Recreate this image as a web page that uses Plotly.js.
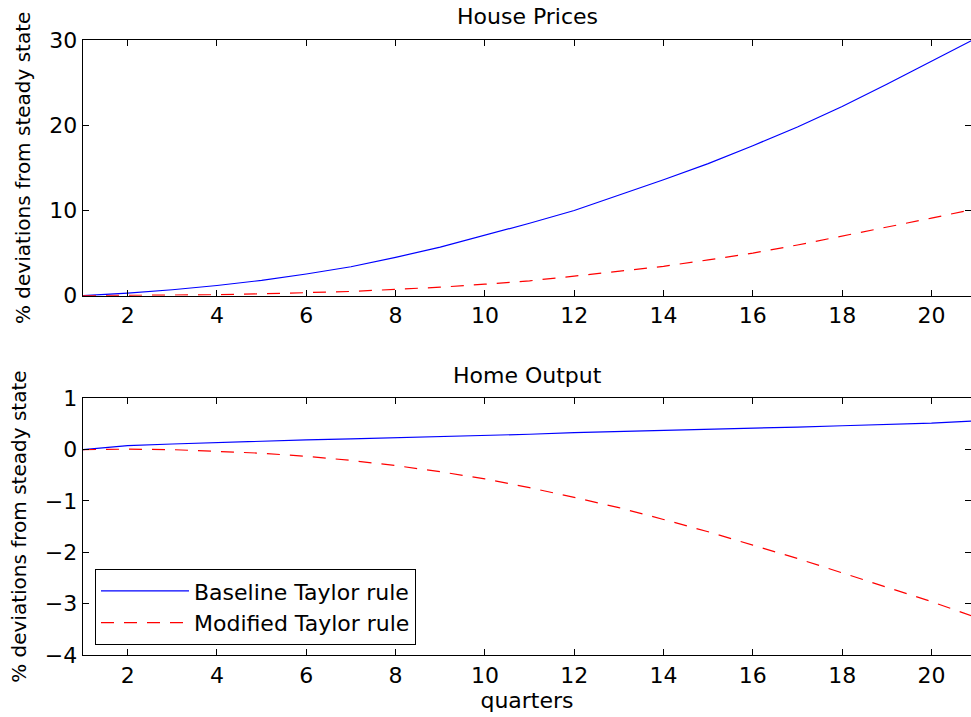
<!DOCTYPE html>
<html>
<head>
<meta charset="utf-8">
<script src="https://cdn.plot.ly/plotly-3.0.1.min.js"></script>
<style>html,body{margin:0;padding:0;background:#fff;}#chart{width:971px;height:717px;}</style>
</head>
<body>
<div id="chart"></div>
<script>
const quarters = [1,2,3,4,5,6,7,8,9,10,11,12,13,14,15,16,17,18,19,20,21];
const housePricesBaseline = [0,0.3,0.7,1.2,1.8,2.55,3.4,4.5,5.7,7.1,8.5,10.0,11.8,13.6,15.5,17.6,19.8,22.2,24.8,27.5,30.2];
const housePricesModified = [0,0.02,0.06,0.12,0.22,0.35,0.5,0.75,1.0,1.35,1.75,2.3,2.85,3.45,4.2,5.0,5.95,7.0,8.0,9.1,10.2];
const homeOutputBaseline = [0,0.08,0.11,0.14,0.165,0.19,0.21,0.23,0.25,0.28,0.3,0.33,0.35,0.37,0.39,0.415,0.44,0.465,0.49,0.515,0.56];
const homeOutputModified = [0,0.01,0.0,-0.03,-0.07,-0.13,-0.21,-0.31,-0.43,-0.57,-0.74,-0.93,-1.13,-1.36,-1.6,-1.86,-2.12,-2.4,-2.68,-2.96,-3.27];
const seriesNames = ['Baseline Taylor rule','Modified Taylor rule'];
const panelTitles = ['House Prices','Home Output'];
const xTicks = [2,4,6,8,10,12,14,16,18,20];
const topYTicks = [0,10,20,30];
const bottomYTicks = [-4,-3,-2,-1,0,1];

const FONT = 'DejaVu Sans, Arial, sans-serif';
const blueLine = {color:'#0000ff', width:1.2};
const redLine = {color:'#ff0000', width:1.2, dash:'13px,10px'};

const traces = [
  {x:quarters, y:housePricesBaseline, type:'scatter', mode:'lines', line:blueLine, xaxis:'x', yaxis:'y', showlegend:false, name:seriesNames[0]},
  {x:quarters, y:housePricesModified, type:'scatter', mode:'lines', line:redLine, xaxis:'x', yaxis:'y', showlegend:false, name:seriesNames[1]},
  {x:quarters, y:homeOutputBaseline, type:'scatter', mode:'lines', line:blueLine, xaxis:'x2', yaxis:'y2', name:seriesNames[0]},
  {x:quarters, y:homeOutputModified, type:'scatter', mode:'lines', line:redLine, xaxis:'x2', yaxis:'y2', name:seriesNames[1]}
];

const axisCommon = {
  showline:true, mirror:'ticks', linecolor:'#000', linewidth:1.3,
  ticks:'inside', ticklen:6, tickwidth:1, tickcolor:'#000',
  showgrid:false, zeroline:false,
  tickfont:{family:FONT, size:22, color:'#000'}, automargin:false
};
const xRange = [1, 20.886];

const layout = {
  width:971, height:717,
  margin:{l:83, r:0, t:40, b:62},
  paper_bgcolor:'#fff', plot_bgcolor:'#fff',
  font:{family:FONT, size:22, color:'#000'},
  xaxis: Object.assign({}, axisCommon, {domain:[0,1], range:xRange, tickvals:xTicks, anchor:'y'}),
  yaxis: Object.assign({}, axisCommon, {domain:[0.5842,1], range:[0,30], tickvals:topYTicks, anchor:'x',
    title:{text:'% deviations from steady state', font:{family:FONT, size:20, color:'#000'}, standoff:13}}),
  xaxis2: Object.assign({}, axisCommon, {domain:[0,1], range:xRange, tickvals:xTicks, anchor:'y2',
    title:{text:'quarters', font:{family:FONT, size:22, color:'#000'}, standoff:4}}),
  yaxis2: Object.assign({}, axisCommon, {domain:[0,0.4174], range:[-4,1], tickvals:bottomYTicks, anchor:'x2',
    title:{text:'% deviations from steady state', font:{family:FONT, size:20, color:'#000'}, standoff:13}}),
  showlegend:true,
  legend:{x:0.0135, y:0.016, xanchor:'left', yanchor:'bottom', bgcolor:'#fff', bordercolor:'#000', borderwidth:1,
    font:{family:FONT, size:22, color:'#000'}, itemwidth:88, tracegroupgap:0},
  annotations:[
    {text:panelTitles[0], xref:'paper', yref:'paper', x:0.5, y:1.039, xanchor:'center', yanchor:'middle', showarrow:false, font:{family:FONT, size:22, color:'#000'}},
    {text:panelTitles[1], xref:'paper', yref:'paper', x:0.5, y:0.4537, xanchor:'center', yanchor:'middle', showarrow:false, font:{family:FONT, size:22, color:'#000'}}
  ]
};

Plotly.newPlot('chart', traces, layout, {staticPlot:true, displayModeBar:false});
</script>
</body>
</html>
